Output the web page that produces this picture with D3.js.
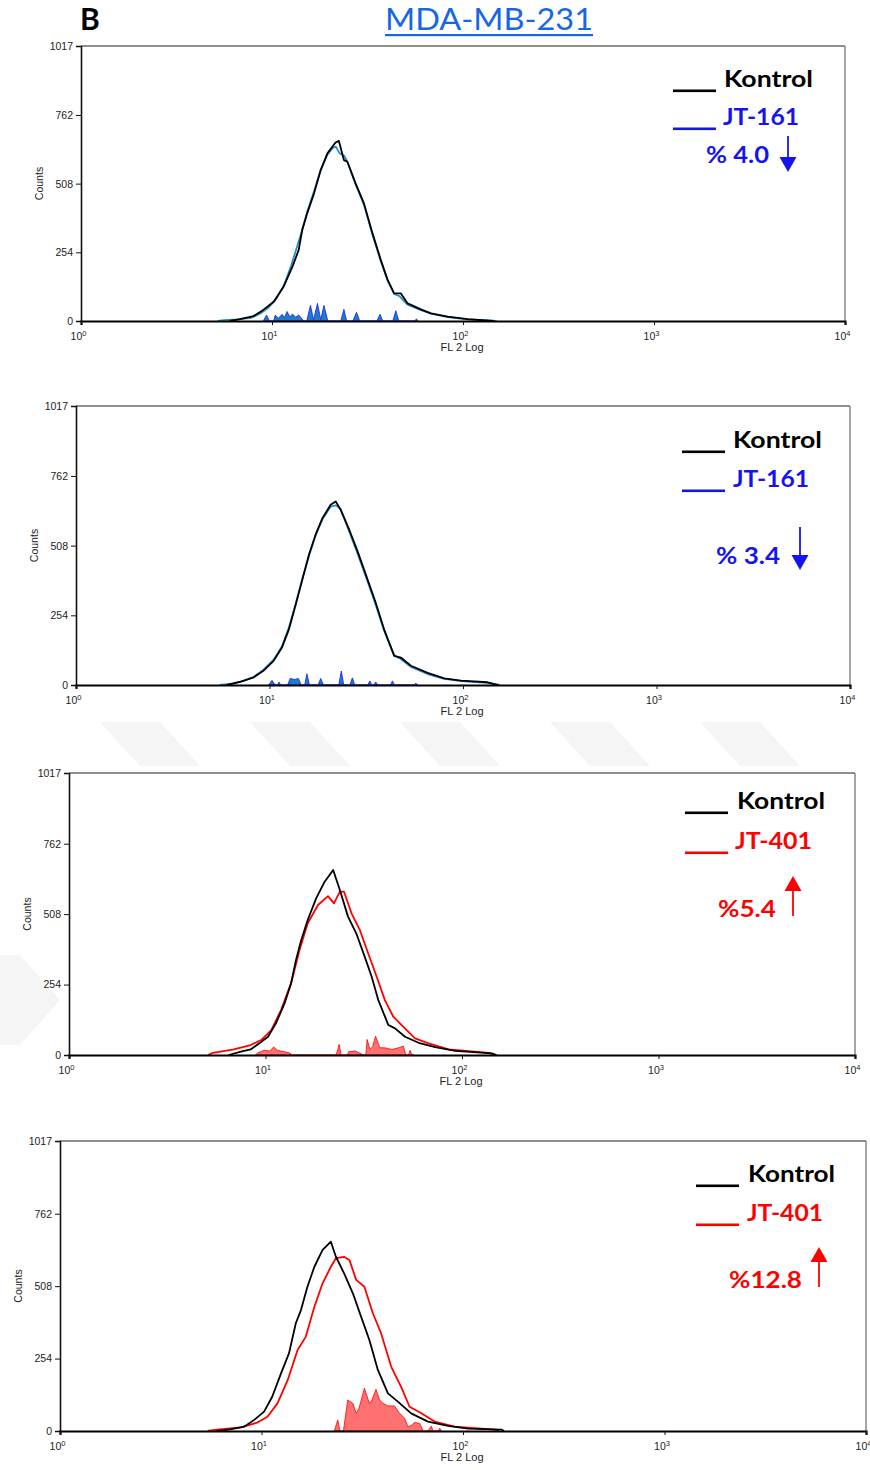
<!DOCTYPE html>
<html><head><meta charset="utf-8">
<script src="https://cdn.jsdelivr.net/npm/d3@7"></script>
<style>body{margin:0;background:#fff}svg{display:block}</style>
</head><body>
<svg id="c" width="870" height="1470"></svg>
<script>
// ---------- data ----------
const titleText = "MDA-MB-231";
const panelLetter = "B";
const xAxisTitle = "FL 2 Log";
const yAxisTitle = "Counts";
const yTickValues = [0, 254, 508, 762, 1017];
const xTickValues = [1, 10, 100, 1000, 10000];
const xTickExponents = ["0", "1", "2", "3", "4"];
const controlName = "Kontrol";
const treatmentNames = ["JT-161", "JT-161", "JT-401", "JT-401"];
const percentLabels = ["% 4.0", "% 3.4", "%5.4", "%12.8"];
const arrowDirections = ["down", "down", "up", "up"];

// [FL2 value, counts]
const p1Kontrol = [[6.0,0],[6.8,7],[8.0,18],[9.0,41],[10.2,71],[11.5,127],[12.8,201],[13.8,263],[14.4,337],[15.3,399],[16.6,472],[18.0,558],[19.5,620],[21.5,660],[22.4,666],[23.8,595],[24.8,589],[27.4,509],[30.3,435],[33.6,324],[37.1,226],[40.3,152],[43.6,102],[47.3,102],[51.3,65],[60.2,43],[68.0,28],[83.1,16],[105.8,7],[145,0]];
const p1Treat = [[5.2,0],[5.6,3],[6.6,6],[7.8,12],[8.8,30],[9.6,50],[10.5,80],[11.6,135],[12.6,205],[13.6,280],[14.3,330],[15.3,405],[16.6,480],[18.0,560],[19.5,615],[20.8,640],[21.6,645],[22.6,620],[23.8,612],[24.8,590],[27.4,505],[30.3,430],[33.6,318],[37.1,222],[40.3,150],[43.6,100],[46.5,92],[51.3,60],[60.2,40],[68.0,27],[83.1,14],[105.8,6],[150,0]];
const p1Diff = [[9.0,0],[9.36,22],[9.7,0],[10.2,0],[10.4,22],[10.8,10],[11.3,25],[11.6,12],[12.0,35],[12.4,15],[12.8,26],[13.3,14],[13.8,22],[14.7,0],[15.2,0],[15.9,58],[16.5,5],[17.3,65],[18.0,5],[18.7,58],[19.6,0],[22.9,0],[23.8,43],[24.6,0],[26.5,0],[27.7,32],[28.8,0],[35.4,0],[36.8,25],[38.0,0],[42.9,0],[44.5,38],[46.1,0],[56,0],[57,8],[58,0]];

const p2Kontrol = [[6.0,0],[7.1,12],[8.3,28],[9.3,52],[10.5,88],[11.6,137],[12.6,203],[13.6,288],[14.8,385],[16.0,476],[17.3,548],[18.8,609],[20.7,657],[22.0,669],[23.3,639],[25.8,567],[28.5,488],[32.1,385],[35.4,300],[39.1,203],[44.1,106],[47.7,100],[53.8,70],[65.6,44],[80.0,24],[97.7,16],[134,10],[152,0]];
const p2Treat = [[5.5,0],[6.5,5],[7.3,14],[8.3,30],[9.3,55],[10.5,92],[11.6,140],[12.6,210],[13.6,292],[14.8,390],[16.0,470],[17.3,545],[18.8,605],[20.7,650],[22.0,655],[23.3,642],[25.8,560],[28.5,480],[32.1,378],[35.4,292],[39.1,198],[44.1,108],[47.7,95],[53.8,66],[65.6,40],[80.0,22],[97.7,14],[134,8],[155,0]];
const p2Diff = [[9.9,0],[10.3,17],[10.7,0],[11.0,0],[11.2,11],[11.4,0],[12.4,0],[12.8,24],[13.5,20],[14.1,24],[14.6,0],[15.2,0],[15.6,41],[16.1,0],[17.8,0],[18.4,24],[19.0,0],[22.8,0],[23.5,51],[24.2,0],[26.0,0],[26.8,26],[27.6,0],[32.2,0],[33.0,15],[33.8,0],[34.6,0],[35.4,11],[36.2,0],[42.2,0],[43.2,15],[44.2,0],[56,0],[57.1,7],[58.2,0]];

const p3Kontrol = [[6.5,0],[7.5,12],[8.4,20],[9.3,42],[10.3,66],[11.3,114],[12.5,186],[13.5,259],[14.3,343],[15.2,415],[16.4,487],[18.1,565],[20.0,625],[22.1,667],[23.9,595],[26.3,499],[29.0,438],[32.0,354],[34.7,282],[37.5,198],[42.2,108],[45.6,96],[51.3,66],[60.1,44],[73.0,28],[92.4,15],[142,6],[150,0]];
const p3Treat = [[5.1,0],[5.4,8],[6.9,20],[8.4,36],[9.5,54],[10.7,90],[12.0,162],[13.5,259],[14.9,379],[16.4,475],[18.5,541],[20.8,573],[22.3,547],[23.9,589],[25.1,589],[27.4,511],[30.2,451],[33.3,367],[36.8,282],[40.5,198],[44.7,138],[49.3,108],[57.7,60],[67.6,42],[85.5,20],[137,8],[145,0]];
const p3Diff = [[8.9,0],[9.12,8],[9.86,17],[10.5,14],[11.0,29],[11.5,17],[12.0,14],[13.2,8],[13.7,0],[22.9,0],[23.7,38],[24.3,0],[26.1,0],[26.5,12],[28.7,14],[31.5,0],[32.4,0],[32.9,56],[34.0,20],[35.1,30],[36.3,68],[38.2,26],[40.4,26],[44,20],[47.6,26],[50.3,32],[51.7,0],[53.5,0],[54.4,17],[55.6,0],[57,0]];

const p4Kontrol = [[6.0,0],[7.0,6],[8.2,15],[9.2,39],[10.3,68],[11.3,120],[12.5,202],[13.7,273],[14.8,378],[15.7,424],[16.9,506],[18.3,576],[20.1,635],[22.1,664],[23.4,611],[25.7,553],[28.4,483],[31.2,401],[34.3,319],[37.8,214],[42.4,132],[47.5,103],[55.3,62],[67.0,33],[84.3,18],[106,8],[155,5],[160,0]];
const p4Treat = [[5.4,0],[6.0,5],[7.9,13],[9.5,29],[10.7,50],[12.0,97],[13.5,179],[15.1,284],[16.6,331],[18.3,436],[20.1,518],[22.1,576],[23.4,606],[25.7,611],[27.3,600],[29.5,530],[32.4,506],[35.7,413],[39.2,343],[44.0,226],[49.3,155],[54.3,85],[62.1,62],[72.3,33],[90.9,15],[144,5],[150,0]];
const p4Diff = [[23.0,0],[23.9,39],[24.5,0],[25.5,0],[26.8,109],[28.4,97],[29.5,62],[30.5,80],[32.4,150],[34.3,97],[35.4,110],[37.0,146],[38.5,110],[40.0,97],[42.4,88],[45.7,88],[48.4,62],[51.3,45],[53.3,14],[55.5,20],[57.5,30],[60.9,27],[63.5,0],[67,0],[69.6,17],[71,0],[75,0],[76.6,10],[78,0]];

const kontrolSeries = [p1Kontrol, p2Kontrol, p3Kontrol, p4Kontrol];
const treatSeries = [p1Treat, p2Treat, p3Treat, p4Treat];
const diffSeries = [p1Diff, p2Diff, p3Diff, p4Diff];

// ---------- styles / layout ----------
const BLUE_LINE = "#2290cc", BLUE_TEXT = "#1414f0", BLUE_FILL = "#1d7cc6", BLUE_EDGE = "#1a1aff";
const RED = "#ff0000", RED_FILL = "#ff7070";
const themes = [
  {line: BLUE_LINE, text: BLUE_TEXT, fill: BLUE_FILL, edge: BLUE_EDGE},
  {line: BLUE_LINE, text: BLUE_TEXT, fill: BLUE_FILL, edge: BLUE_EDGE},
  {line: RED, text: RED, fill: RED_FILL, edge: RED},
  {line: RED, text: RED, fill: RED_FILL, edge: RED}
];
const layout = [
  {l: 81, r: 845, t: 46, b: 321,
   leg: {dashX: 673, kx: 724, kw: 89, ky: 87, jx: 723, jw: 76, jy: 125, px: 706, pw: 63, py: 163, ax: 788, a0: 136, a1: 172}},
  {l: 76, r: 850, t: 406, b: 685,
   leg: {dashX: 682, kx: 733, kw: 89, ky: 448, jx: 733, jw: 76, jy: 487, px: 716, pw: 64, py: 564, ax: 800, a0: 527, a1: 570}},
  {l: 69, r: 855, t: 773, b: 1055,
   leg: {dashX: 685, kx: 737, kw: 88, ky: 809, jx: 735, jw: 77, jy: 849, px: 718, pw: 58, py: 917, ax: 793, a0: 916, a1: 876}},
  {l: 60, r: 866, t: 1141, b: 1431,
   leg: {dashX: 696, kx: 748, kw: 87, ky: 1182, jx: 747, jw: 76, jy: 1221, px: 729, pw: 73, py: 1288, ax: 819, a0: 1287, a1: 1247}}
];

const svg = d3.select("#c");
svg.append("rect").attr("width", 870).attr("height", 1470).attr("fill", "#fff");

// faint watermark shapes
const wm = svg.append("g").attr("fill", "#f5f5f5");
[[100,722],[250,722],[400,722],[550,722],[700,722]].forEach(([x,y]) => {
  wm.append("path").attr("d", `M${x},${y}L${x+60},${y}L${x+100},${y+44}L${x+40},${y+44}Z`);
});
wm.append("path").attr("d", "M0,955L20,955L60,1000L20,1045L0,1045Z");

// header
svg.append("text").attr("x", 80).attr("y", 30).text(panelLetter)
  .attr("font-family", "Lato, 'Open Sans', sans-serif").attr("font-weight", 700)
  .attr("font-size", 30).attr("fill", "#000");
svg.append("text").attr("x", 385).attr("y", 30).text(titleText)
  .attr("font-family", "Lato, 'Open Sans', sans-serif").attr("font-size", 30)
  .attr("textLength", 208).attr("lengthAdjust", "spacingAndGlyphs").attr("fill", "#1766e6");
svg.append("rect").attr("x", 385).attr("y", 34).attr("width", 208).attr("height", 2.2).attr("fill", "#1766e6");

const axisFont = "'Liberation Sans', Arial, sans-serif";
const legFont = "Lato, 'Open Sans', sans-serif";

layout.forEach((L, i) => {
  const g = svg.append("g");
  const x = d3.scaleLog().domain([1, 10000]).range([L.l, L.r]);
  const y = d3.scaleLinear().domain([0, 1017]).range([L.b, L.t]);
  const th = themes[i];

  // frame
  g.append("line").attr("x1", L.l).attr("x2", L.r).attr("y1", L.t).attr("y2", L.t)
    .attr("stroke", "#6a6a6a").attr("stroke-width", 1.6);
  g.append("line").attr("x1", L.r).attr("x2", L.r).attr("y1", L.t).attr("y2", L.b)
    .attr("stroke", "#6a6a6a").attr("stroke-width", 1.2);

  // difference (filled) histogram
  const area = d3.area().x(d => x(d[0])).y0(y(0)).y1(d => y(d[1]));
  g.append("path").datum(diffSeries[i]).attr("d", area)
    .attr("fill", th.fill).attr("stroke", th.edge).attr("stroke-width", 0.8);

  const line = d3.line().x(d => x(d[0])).y(d => y(d[1]));
  g.append("path").datum(treatSeries[i]).attr("d", line)
    .attr("fill", "none").attr("stroke", th.line).attr("stroke-width", 1.8).attr("stroke-linejoin", "round");
  g.append("path").datum(kontrolSeries[i]).attr("d", line)
    .attr("fill", "none").attr("stroke", "#000").attr("stroke-width", 1.8).attr("stroke-linejoin", "round");

  // y axis
  const ya = g.append("g").attr("transform", `translate(${L.l},0)`)
    .call(d3.axisLeft(y).tickValues(yTickValues).tickSize(5).tickPadding(3).tickFormat(d3.format("d")));
  ya.select(".domain").attr("stroke", "#111").attr("stroke-width", 1.6);
  ya.selectAll(".tick line").attr("stroke", "#111").attr("stroke-width", 1);
  ya.selectAll(".tick text").attr("font-family", axisFont).attr("font-size", 10.5).attr("fill", "#222");

  // x axis
  const xa = g.append("g").attr("transform", `translate(0,${L.b})`)
    .call(d3.axisBottom(x).tickValues(xTickValues).tickSize(4).tickFormat(""));
  xa.select(".domain").attr("stroke", "#000").attr("stroke-width", 2.2);
  xa.selectAll(".tick line").attr("stroke", "#111");
  xa.selectAll(".tick").each(function(d, k) {
    const t = d3.select(this).append("text").attr("x", -3).attr("y", 18.5)
      .attr("text-anchor", "middle").attr("font-family", axisFont).attr("fill", "#222");
    t.append("tspan").attr("font-size", 10.5).text("10");
    t.append("tspan").attr("font-size", 7.5).attr("dy", -4).text(xTickExponents[k]);
  });

  g.append("text").attr("x", x(100) - 1).attr("y", L.b + 30).attr("text-anchor", "middle")
    .attr("font-family", axisFont).attr("font-size", 11).attr("fill", "#222").text(xAxisTitle);
  g.append("text").attr("transform", `translate(${L.l - 38},${(L.t + L.b) / 2}) rotate(-90)`)
    .attr("text-anchor", "middle").attr("font-family", axisFont).attr("font-size", 10.5).attr("fill", "#222").text(yAxisTitle);

  // legend
  const lg = L.leg;
  const txt = (s, xx, yy, w, col) => g.append("text").attr("x", xx).attr("y", yy).text(s)
    .attr("font-family", legFont).attr("font-weight", 700).attr("font-size", 22).attr("fill", col)
    .attr("textLength", w).attr("lengthAdjust", "spacingAndGlyphs");
  const dash = (yy, col) => g.append("rect").attr("x", lg.dashX).attr("y", yy + 2.5)
    .attr("width", 43).attr("height", 2.6).attr("fill", col);
  dash(lg.ky, "#000");
  txt(controlName, lg.kx, lg.ky, lg.kw, "#000");
  dash(lg.jy, th.text);
  txt(treatmentNames[i], lg.jx, lg.jy, lg.jw, th.text);
  txt(percentLabels[i], lg.px, lg.py, lg.pw, th.text);
  // arrow
  const dir = arrowDirections[i] === "down" ? 1 : -1;
  const headLen = 15, headW = 8.5;
  g.append("line").attr("x1", lg.ax).attr("x2", lg.ax).attr("y1", lg.a0).attr("y2", lg.a1 - dir * headLen)
    .attr("stroke", th.text).attr("stroke-width", 1.8);
  g.append("path").attr("d", `M${lg.ax - headW},${lg.a1 - dir * headLen}L${lg.ax + headW},${lg.a1 - dir * headLen}L${lg.ax},${lg.a1}Z`)
    .attr("fill", th.text);
});
</script>
</body></html>
